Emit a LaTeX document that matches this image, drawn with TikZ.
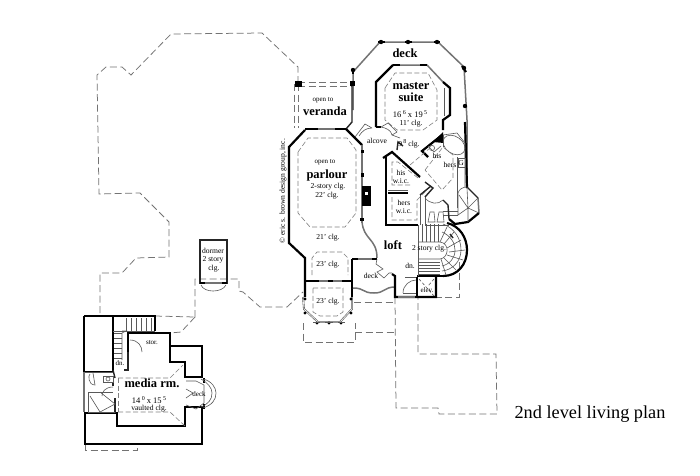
\documentclass[tikz,border=0pt]{standalone}
\usepackage{fontspec}
\setmainfont{Liberation Serif}
\tikzset{
 wall/.style={line width=2.2pt,black,line join=miter},
 midwall/.style={line width=1.4pt,black!85},
 glass/.style={line width=1.5pt,black!55},
 thin/.style={line width=.6pt,black!65},
 roof/.style={line width=.75pt,black!55,dash pattern=on 7pt off 3.5pt},
 inner/.style={line width=.6pt,black!50,dash pattern=on 5pt off 2.5pt},
 post/.style={fill=black,draw=none},
 lab/.style={inner sep=0pt,font=\fontsize{7.6}{8.6}\selectfont,align=center,text=black},
 big/.style={inner sep=0pt,font=\fontsize{12.5}{12}\selectfont\bfseries,align=center},
}
\newcommand{\supn}[1]{\raisebox{3pt}{\fontsize{6}{6}\selectfont #1}}
\begin{document}
\begin{tikzpicture}[x=1pt,y=-1pt]
\useasboundingbox (0,0) rectangle (700,475);
\fill[white] (0,0) rectangle (700,475);
% roof outlines
\draw[roof] (298,83)--(298,67)--(262,33)--(171,34)--(131,75)--(122,67)--(106,67)--(97,75)--(99,194)--(140,193)--(169,222)--(169,257)--(136,258)--(122,273)--(100,273)--(100,316);
\draw[roof] (195,317)--(195,279)--(239,279)--(239,291)--(243,292)--(260,307)--(287,307)--(303,292);
\draw[roof] (155,316)--(195,317);
\draw[roof] (195,317)--(181,332)--(170,333);
\draw[roof] (303,323)--(303,342)--(355,342)--(355,323);
\draw[roof] (355,332)--(395,332);
\draw[roof] (354,302)--(395,302);
\draw[roof] (395,297)--(396,408)--(438,408)--(439,414)--(497,414)--(496,354)--(418,354)--(418,297);
\draw[roof] (459,262)--(459,297)--(436,297);
\draw[roof] (294,84)--(294,128);
\draw[roof] (298,84)--(298,128);
\draw[roof] (298,82)--(352,82);
\draw[roof] (298,86)--(352,86);
\draw[roof] (85,445)--(85,450)--(137,450)--(137,445);
% deck
\draw[glass] (353,110)--(353,72)--(380,42)--(438,42)--(464,67)--(467,120)--(467,187);
\foreach \p in {(353,70),(381,42),(408,42),(437,42),(464,68),(465,106)}{\fill[post] \p circle (2.2pt);}
\draw[wall] (353,68)--(353,74);\draw[wall] (378,42)--(385,42);\draw[wall] (405,42)--(412,42);\draw[wall] (434,42)--(440,42);\draw[wall] (462,66)--(466,72);
\draw[wall] (465,122)--(467,188);
% master suite
\draw[wall] (376,127)--(376,82)--(393,65);
\draw[glass] (393,65)--(427,65)--(443,82);
\draw[wall] (393,65)--(400,65);\draw[wall] (420,65)--(427,65);
\draw[wall] (443,82)--(450,88)--(450,115)--(443,120)--(443,130);
\draw[thin] (444,88)--(444,116);
\draw[inner] (385,88)--(395,73)--(428,73)--(437,90)--(437,120)--(423,130)--(397,130)--(385,120)--cycle;
% veranda and parlour
\fill[post] (295,81) rectangle (302,87);
\fill[post] (350,81) rectangle (355,86);
\draw[midwall] (352,86)--(352,122)--(346,129);
\draw[wall] (346,129)--(362,145);
\draw[glass] (308,129)--(346,129);
\draw[wall] (305,130)--(289,147)--(289,243)--(305,258)--(305,297);
\draw[wall] (305,129)--(318,129);\draw[wall] (335,129)--(346,129);
\draw[glass] (362,145)--(362,223);
\fill[post] (361,150) rectangle (364,153);
\fill[post] (361,173) rectangle (364,177);
\fill[post] (360,218) rectangle (364,221);
\draw[glass] (362,221) .. controls (363,240) and (377,238) .. (377,258);
\fill[post] (362,186) rectangle (371,206);
\fill[white] (364.5,192) rectangle (367.5,195);
\draw[inner] (298,152)--(308,138)--(347,138)--(356,150)--(356,213)--(345,227)--(310,227)--(298,213)--cycle;
\draw[inner] (312,275)--(312,258)--(317,252)--(342,252)--(348,258)--(348,275);
\draw[inner] (313,288)--(343,288)--(343,312)--(337,316)--(320,316)--(313,312)--cycle;
% lower bay
\draw[wall] (305,281)--(352,281);
\draw[glass] (319,281)--(328,281);\draw[glass] (333,281)--(342,281);
\draw[wall] (352,259)--(352,297);
\draw[wall] (352,259)--(377,259);\draw[glass] (358,259)--(372,259);
\draw[thin,double] (303,297)--(304,309)--(318,322)--(340,322)--(352,309)--(352,297);
\foreach \p in {(305,299),(351,299),(305,313),(351,313),(317,323),(329,323),(341,323)}{\fill[post] \p circle (1.6pt);}
\draw[thin] (313,322)--(320,322);\draw[thin] (325,322)--(333,322);\draw[thin] (338,322)--(345,322);
% small deck
\draw[glass] (353,288) .. controls (365,288) and (362,293) .. (374,293) .. controls (385,293) and (384,287) .. (395,287);
\draw[thin] (377,259)--(376,264)--(383,269)--(377,272)--(384,278)--(389,273)--(392,273);
% elevator, walls
\draw[wall] (392,274)--(395,276)--(395,297)--(436,297)--(436,277);
\draw[wall] (417,277)--(417,297);
\draw[glass] (398,297)--(415,297);
\draw[wall] (417,276)--(443,276);
\draw[thin] (405,277)--(416,277);
\draw[thin] (403,293)--(416,293);
\draw[thin] (403,293) .. controls (403,285) and (410,280) .. (416,280);
\draw[thin,densely dashed] (419,279)--(434,296);\draw[thin,densely dashed] (434,279)--(428,286);
% stair
\draw[wall] (443,276) .. controls (458,276) and (467,264) .. (467,250) .. controls (467,238) and (460,226) .. (447,223);
\draw[thin] (418,225)--(418,276);
\draw[thin] (418,242)--(440,242) .. controls (450,243) and (449,258) .. (440,259)--(418,259);
\foreach \x in {422,426,430,434,438}{\draw[thin] (\x,224)--(\x,242);}
\foreach \y in {262,265,268,271,274}{\draw[thin] (418,\y)--(440,\y);}
\draw[thin] (443,224) .. controls (454,228) and (461,238) .. (461,250) .. controls (461,262) and (452,270) .. (442,271);
\draw[thin] (442,232) .. controls (451,236) and (455,243) .. (455,250) .. controls (455,258) and (450,264) .. (442,266);
\foreach \a/\b/\c/\d in {440/242/447/227,444/244/454/232,447/248/461/240,449/252/465/250,447/255/463/260,444/258/456/270,441/259/446/275}{\draw[thin] (\a,\b)--(\c,\d);}
\draw[midwall] (450,234)--(453,238);
% bath
\draw[wall] (442,135)--(422,151)--(428,157);
\fill[black] (433,142)--(443,132)--(444,143)--cycle;
\draw[thin] (428,146)--(434,152)--(441,146);
\draw[thin] (432,148) circle (2.6pt);
\draw[thin] (443,135)--(457,133)--(465,143)--(465,187);
\draw[thin,rotate around={-35:(454,145)}] (454,145) ellipse (12 and 8.5);
\draw[thin] (443,135)--(443,147);
\draw[thin] (457,157)--(457,208);
\draw[thin] (458,158) rectangle (465,167);
\draw[inner] (425,170)--(443,147)--(453,155)--(453,178)--(442,190)--cycle;
\draw[inner] (410,165)--(430,148);
% tower
\draw[thin] (458,215)--(458,193) .. controls (459,189) and (463,187) .. (467,187);
\draw[midwall] (467,187)--(478,198);
\draw[glass] (478,198)--(479,213);
\draw[wall] (479,213)--(468,222)--(455,224)--(449,219);
\draw[thin] (468,208)--(467,188) (468,208)--(478,198) (468,208)--(479,213) (468,208)--(468,222) (468,208)--(458,215) (468,208)--(459,195);
\draw[thin] (443,211)--(458,211) (443,215)--(458,215);
% interior walls / closets
\draw[wall] (383,158)--(392,152)--(420,177);
\draw[wall] (386,157)--(386,225)--(418,225);
\draw[wall] (388,193)--(408,193);
\draw[thin] (388,190)--(408,190);
\draw[inner] (410,185)--(392,185)--(392,162)--(398,162)--(418,178);
\draw[inner] (392,197)--(392,220)--(417,220)--(417,200)--(427,190);
\draw[thin] (420,195)--(420,225);
\draw[thin] (425,197)--(425,225);
\draw[thin] (425,225)--(449,225);
\draw[midwall] (425,197)--(433,188)--(425,182);
\draw[midwall] (420,195)--(431,186);
\draw[thin] (425,198) .. controls (430,204) and (438,205) .. (443,200);
\draw[midwall] (443,200)--(448,205)--(449,219);
\draw[thin] (430,212)--(434,212)--(435,222)--(428,222)--cycle;
\draw[thin] (439,212)--(443,212)--(444,222)--(437,222)--cycle;
% alcove and doors
\draw[wall] (376,127)--(381,127);
\draw[midwall] (397,150)--(398,142)--(403,146);
\draw[thin] (355,137)--(365,124)--(372,128) (372,128) .. controls (366,128) and (362,131) .. (359,136);
\draw[thin] (381,127)--(388,123)--(397,132)--(392,135) (381,127) .. controls (386,128) and (391,130) .. (392,135);
\draw[thin] (392,135)--(400,138);
% dormer
\draw[midwall] (200,240) rectangle (227,283);
\draw[wall] (200,283)--(205,283);\draw[wall] (222,283)--(227,283);
\draw[glass] (205,283)--(222,283);
\draw[thin] (201,285) .. controls (204,293) and (222,293) .. (226,285);
% media room
\draw[wall] (84,316)--(155,316)--(155,331);
\draw[wall] (84,316)--(84,372);
\draw[wall] (113,316)--(113,372);
\draw[wall] (84,372)--(113,372);
\draw[glass] (84,372)--(84,412);
\draw[wall] (128,352)--(128,333)--(170,333)--(170,355);
\draw[wall] (170,346)--(202,346)--(202,377)--(185,377)--(185,362)--(170,362)--(170,355);
\draw[wall] (185,407)--(202,407)--(202,444)--(85,444)--(85,413)--(117,413)--(117,426)--(185,426)--cycle;
\draw[midwall] (128,352)--(128,370)--(124,370);
\draw[midwall] (113,370)--(115,378);
\draw[midwall] (113,383)--(113,386);
\draw[midwall] (115,398)--(115,413);
\draw[thin] (85,372)--(113,372);
\draw[thin] (88,392)--(113,392);
\draw[thin] (88,392)--(88,412)--(115,412);
\draw[thin] (100,392)--(115,404)--(100,412)--(90,396);
\draw[thin] (93,373)--(95,385) .. controls (88,385) and (88,375) .. (90,374);
\draw[thin] (103,376) rectangle (113,382);\draw[thin] (108,379) circle (2pt);
\draw[thin] (113,387) .. controls (105,387) and (102,392) .. (102,396);
\draw[thin] (130,340) .. controls (138,340) and (142,346) .. (142,352);
\foreach \x in {126,131,136,141,146,151}{\draw[thin] (\x,318)--(\x,331);}
\foreach \y in {333,338,343,348,353,358}{\draw[thin] (114,\y)--(122,\y);}
\draw[thin] (122,331)--(126,331)--(122,333)--(122,360);
\draw[thin] (113,331)--(155,331);
\draw[inner] (118,378)--(170,378)--(183,365);
\draw[inner] (118,412)--(170,412)--(185,426);
\draw[inner] (118,378)--(118,412);
\draw[wall] (204,378)--(204,383);\draw[wall] (204,404)--(204,409);
\draw[thin] (186,381)--(196,381)--(204,385)--(204,403)--(196,409)--(186,405);
\draw[thin] (203,379) .. controls (212,381) and (216,388) .. (216,393) .. controls (216,400) and (212,405) .. (203,408);
\draw[thin] (201,379) .. controls (208,383) and (212,388) .. (212,393) .. controls (212,400) and (208,404) .. (201,407);
\draw[thin] (186,389)--(193,393)--(186,398);
% labels
\node[big] (ldeck) at (405,53) {deck};
\node[big] (lmaster) at (411,92.5) {master\\suite};
\node[lab,font=\fontsize{8.5}{9}\selectfont] (lsize) at (410,114) {16\,\supn{6} x 19\,\supn{5}};
\node[lab] (lclg) at (411,124) {11' clg.};
\node[lab,font=\fontsize{7}{8}\selectfont] (lopen) at (323,100) {open to};
\node[big] (lver) at (325,111) {veranda};
\node[lab] (lalc) at (377,141) {alcove};
\node[lab] (l98) at (409,144) {9\,\supn{8} clg.};
\node[lab] (lhis) at (437,156) {his};
\node[lab] (lhers) at (450,165) {hers};
\node[lab] (lg) at (461,163) {G};
\node[lab,font=\fontsize{7}{8}\selectfont] (lopen2) at (325,162) {open to};
\node[big] (lpar) at (327,175) {parlour};
\node[lab] (l2st) at (328,187) {2-story clg.};
\node[lab] (l22) at (327,196) {22' clg.};
\node[lab] (l21) at (328,238) {21' clg.};
\node[lab] (l23a) at (328,265) {23' clg.};
\node[lab] (l23b) at (328,302) {23' clg.};
\node[big] (lloft) at (393,245) {loft};
\node[lab] (l2s) at (429,249) {2 story clg.};
\node[lab] (ldn) at (410,266) {dn.};
\node[lab] (ldeck2) at (371,276) {deck};
\node[lab,font=\fontsize{7}{8}\selectfont] (lelev) at (427,290) {elev.};
\node[lab] (lhisw) at (401,177) {his\\w.i.c.};
\node[lab] (lhersw) at (404,207) {hers\\w.i.c.};
\node[lab] (ldorm) at (213,260) {dormer\\2 story\\\ clg.};
\node[lab,rotate=90,font=\fontsize{7.6}{8}\selectfont] (lcopy) at (283,191) {© eric s. brown design group, inc.};
\node[big] (lmedia) at (152,383) {media rm.};
\node[lab,font=\fontsize{8.5}{9}\selectfont] (lmsize) at (149,400) {14\,\supn{0} x 15\,\supn{5}};
\node[lab] (lvault) at (149,409) {vaulted clg.};
\node[lab,font=\fontsize{7}{8}\selectfont] (lstor) at (152,343) {stor.};
\node[lab,font=\fontsize{7}{8}\selectfont] (ldn2) at (120,363) {dn.};
\node[lab,font=\fontsize{7}{8}\selectfont] (ldeck3) at (199,394) {deck};
\node[inner sep=0pt,font=\fontsize{18.3}{19}\selectfont] (ltitle) at (590,414) {2nd level living plan};
\end{tikzpicture}
\end{document}
